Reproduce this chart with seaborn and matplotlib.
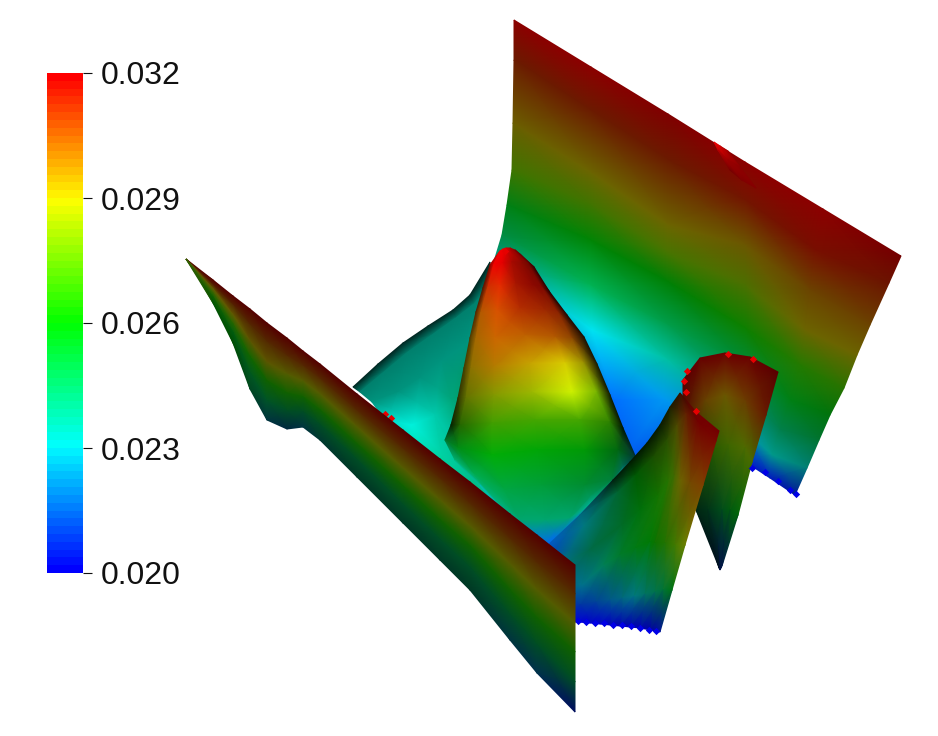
import numpy as np
import matplotlib
matplotlib.use("Agg")
import matplotlib.pyplot as plt
from matplotlib.colors import ListedColormap, Normalize
from matplotlib.cm import ScalarMappable
import seaborn as sns

sns.set_theme(style="white")
plt.rcParams['font.family'] = ['Liberation Sans', 'DejaVu Sans']

bar_ticks = [0.020, 0.023, 0.026, 0.029, 0.032]
bar_labels = ["0.020", "0.023", "0.026", "0.029", "0.032"]
bar_colors = ["#0000ff", "#00ffff", "#00ff00", "#ffff00", "#ff0000"]

# Every panel: projected surface vertices (x, y), scalar value, lighting factor.
back_x = [[514,591,668,745,823,901],[514,590,668,745,815,889],[513,590,668,745,810,870],
          [512,590,668,745,805,857],[507,590,668,745,800,844],[502,590,668,745,790,830],
          [495,592,668,745,780,819],[505,615,665,745,772,807],[545,590,640,750,770,795]]
back_y = [[20,67,114,162,209,256],[60,110,160,200,250,283],[123,172,225,245,290,325],
          [170,205,253,285,330,355],[205,240,282,328,365,388],[235,285,325,365,400,415],
          [258,330,360,395,430,440],[300,400,400,430,455,468],[545,520,500,465,478,495]]
back_v = [[.032,.032,.032,.032,.032,.032],[.0312,.0312,.0312,.0314,.0316,.0314],[.0292,.029,.029,.0295,.03,.03],
          [.0275,.0275,.0278,.028,.029,.029],[.0255,.026,.026,.0262,.0268,.027],[.0245,.0245,.0245,.0248,.0255,.0258],
          [.0235,.023,.0235,.0238,.0243,.0247],[.023,.0215,.022,.0225,.0232,.0232],[.021,.021,.0205,.0205,.0205,.0205]]
back_s = [[.55,.55,.5,.55,.55,.45],[.42,.42,.42,.45,.47,.42],[.42,.42,.42,.42,.42,.42],
          [.46,.46,.46,.44,.42,.42],[.5,.52,.5,.5,.48,.45],[.55,.7,.62,.55,.5,.45],
          [.6,.95,.75,.55,.5,.45],[.6,1.0,.95,.7,.6,.5],[.8,.95,.9,.8,.75,.6]]

valley_x = [[353,378,403,428,453,470,490],[360,384,408,432,456,474,490],[372,398,420,442,465,480,495],
            [385,412,435,452,470,485,500],[400,440,480,510,530,540,545]]
valley_y = [[387,364,343,326,310,295,262],[392,372,352,335,318,304,285],[402,392,378,360,345,330,310],
            [420,425,415,400,385,370,350],[442,475,500,520,530,540,545]]
valley_v = [[.0235]*7,[.0235]*7,[.0235]*7,[.0232,.0232,.0235,.0238,.024,.024,.024],[.0235,.024,.024,.0235,.0225,.0215,.0215]]
valley_s = [[.15]*7,[.5]*7,[.58]*7,[.85,.95,.8,.65,.6,.6,.6],[.95,.8,.75,.8,.9,.95,.95]]

hump_x = [[497,500,503,506,510,515,520],[490,494,502,512,522,528,534],[483,488,500,516,533,542,549],
          [476,481,497,520,545,558,567],[470,476,495,525,555,572,584],[464,471,494,530,565,584,597],
          [458,466,494,532,572,597,610],[451,460,492,535,580,610,623],[445,458,492,538,585,618,637],
          [455,475,505,542,585,612,622],[480,500,520,545,570,590,600],[510,520,532,545,555,568,575]]
hump_y = [[255,251,249,248,248,250,254],[265,264,263,262,263,263,267],[288,287,285,283,285,287,291],
          [312,312,310,308,310,312,315],[338,338,337,335,337,338,337],[368,368,366,363,363,363,364],
          [398,398,395,392,392,392,395],[425,425,423,420,420,422,428],[440,448,455,450,450,450,460],
          [460,475,490,485,485,480,475],[485,505,520,520,518,505,495],[520,530,538,545,540,530,523]]
hump_v = [[.032]*7,[.0318,.032,.032,.0318,.0318,.0318,.032],[.031,.0312,.0314,.0316,.0318,.0318,.0318],
          [.0305,.0305,.0308,.0312,.0312,.0312,.0312],[.0295,.03,.0305,.0305,.0305,.0305,.0305],[.029,.0295,.0298,.0295,.029,.029,.029],
          [.0285,.0285,.0285,.0285,.0285,.028,.028],[.0265,.027,.0272,.0272,.0272,.027,.0255],[.0248,.0255,.026,.026,.026,.0255,.0225],
          [.024,.0245,.0248,.025,.025,.0245,.0225],[.0235,.0238,.024,.024,.024,.0235,.022],[.023,.0225,.022,.0215,.0215,.0215,.0215]]
hump_s = [[.85,.95,.95,.85,.7,.55,.4],[.5,.95,.9,.65,.55,.45,.2],[.3,.8,.9,.65,.55,.5,.15],
          [.3,.7,.85,.7,.62,.55,.12],[.3,.65,.8,.75,.7,.55,.1],[.25,.55,.7,.78,.85,.6,.1],
          [.2,.45,.6,.72,.95,.7,.1],[.12,.4,.62,.65,.65,.5,.08],[.45,.55,.68,.65,.6,.4,.25],
          [.7,.68,.65,.62,.55,.5,.7],[.75,.7,.65,.65,.65,.7,.9],[.8,.8,.85,.95,.95,.95,.95]]

ring_x = [[683,700,725,750,778],[683,705,725,745,766],[690,712,728,745,752],[696,708,722,730,738],[718,719,720,721,722]]
ring_y = [[380,358,353,357,372],[420,400,395,400,415],[470,450,445,448,462],[510,510,510,510,515],[565,568,570,568,566]]
ring_v = [[.032,.032,.032,.032,.032],[.0312,.03,.0295,.0302,.0312],[.0272,.0272,.0278,.0282,.028],[.0245,.0245,.025,.0255,.0258],[.0215,.021,.0205,.0205,.021]]
ring_s = [[.35,.4,.42,.42,.35],[.3,.4,.42,.42,.4],[.3,.35,.4,.42,.42],[.15,.2,.3,.35,.4],[.12,.15,.3,.3,.3]]

inner_x = [[548,580,613,630,647,660,670,680,696,719],[553,584,618,636,654,667,677,686,698,716],
           [555,590,622,640,658,668,674,680,690,703],[560,582,604,620,636,650,655,665,675,685],
           [562,580,596,610,622,634,645,655,663,672],[565,578,590,600,610,620,630,640,650,660]]
inner_y = [[545,515,480,462,443,425,407,393,412,431],[552,525,492,475,456,440,425,413,422,441],
           [570,550,525,510,495,480,475,480,482,485],[590,585,565,555,548,542,543,543,545,545],
           [605,605,602,600,598,596,594,592,590,590],[621,622,623,624,625,626,627,628,630,632]]
inner_v = [[.0215,.0225,.0245,.026,.0265,.027,.0285,.031,.032,.032],[.0215,.023,.0245,.026,.027,.0275,.029,.031,.032,.0318],
           [.0225,.024,.025,.0258,.0265,.027,.0278,.029,.03,.0305],[.022,.0225,.024,.025,.0255,.026,.0262,.0268,.0275,.0285],
           [.021,.021,.0215,.022,.0225,.023,.0235,.024,.0245,.0255],[.02,.02,.02,.02,.02,.02,.02,.02,.02,.0205]]
inner_s = [[.8,.5,.12,.1,.1,.1,.12,.2,.45,.45],[.7,.5,.4,.35,.3,.3,.3,.38,.45,.48],
           [.55,.42,.42,.44,.45,.45,.42,.42,.45,.5],[.55,.55,.5,.48,.48,.48,.45,.45,.48,.5],
           [.7,.65,.6,.55,.5,.5,.45,.45,.45,.45],[.9,.85,.8,.8,.75,.7,.7,.7,.65,.6]]

wall_x = [186,213,233,250,267,287,303,320,357,403,440,470,510,537,575]
wall_y = [[259,280,296,309,323,338,351,364,394,430,459,482,514,535,565],
          [259,285,305,325,342,356,366,379,411,449,479,504,539,563,594],
          [259,289,315,341,362,374,381,394,427,468,500,526,564,590,623],
          [259,293,324,357,381,393,397,410,444,486,520,546,590,618,652],
          [259,297,333,373,401,411,412,425,460,505,540,568,615,645,682],
          [259,303,343,389,420,429,427,440,477,523,560,590,640,673,712]]
wall_v = [[.032]*15,
          [.0308,.0308,.0306,.0305,.0305,.0305,.0305,.0305,.0305,.0305,.0305,.0305,.0305,.0305,.0305],
          [.0295,.029,.029,.029,.029,.0288,.0288,.0288,.0288,.0288,.0288,.0288,.0288,.0288,.0288],
          [.028,.0275,.027,.0265,.0265,.0265,.0265,.0265,.0265,.0265,.0265,.0265,.0265,.0265,.0265],
          [.028,.0265,.0255,.025,.0245,.0245,.0245,.0245,.0245,.0245,.0245,.0245,.0245,.0245,.0245],
          [.028,.026,.026,.0245,.0225,.022,.0225,.0235,.024,.024,.024,.024,.0225,.022,.0205]]
wall_s = [[.33]*15,[.33]*15,[.38,.38,.38,.36,.36,.36,.36,.36,.36,.36,.36,.36,.36,.36,.36],
          [.38,.4,.4,.4,.38,.38,.38,.38,.38,.38,.38,.38,.38,.38,.38],
          [.38,.38,.36,.35,.33,.3,.3,.3,.3,.3,.3,.3,.3,.3,.3],
          [.38,.32,.3,.28,.25,.25,.25,.22,.22,.22,.22,.22,.25,.3,.38]]

sliver_x = [[714,720,728],[718,728,740],[730,742,756]]
sliver_y = [[142,146,151],[150,160,167],[170,180,188]]
sliver_v = [[.032]*3,[.032]*3,[.032]*3]
sliver_s = [[1.0,.85,.6],[.75,.62,.55],[.45,.5,.52]]

red_x = [687,684,686,696,728,753,385,391,505]
red_y = [371,381,392,411,354,359,414,418,251]
blue_x = [578,586,595,604,613,622,631,640,649,656,752,765,778,790,796]
blue_y = [621,622,623,623,625,625,626,628,630,631,468,472,481,490,494]

cmap = ListedColormap(sns.blend_palette(bar_colors, n_colors=64))
norm = Normalize(bar_ticks[0], bar_ticks[-1])

fig = plt.figure(figsize=(9.38, 7.36), dpi=100)
ax = fig.add_axes([0, 0, 1, 1])
ax.set_xlim(0, 938)
ax.set_ylim(736, 0)
ax.axis("off")

def panel(px, py, pv, ps):
    x, y = np.array(px, float), np.array(py, float)
    rgba = cmap(norm(np.array(pv, float)))
    rgba[..., :3] *= np.array(ps, float)[..., None]
    ax.pcolormesh(x, y, rgba, shading="gouraud", rasterized=True)

panel(back_x, back_y, back_v, back_s)
panel(sliver_x, sliver_y, sliver_v, sliver_s)
panel(valley_x, valley_y, valley_v, valley_s)
panel(hump_x, hump_y, hump_v, hump_s)
panel(ring_x, ring_y, ring_v, ring_s)
panel(inner_x, inner_y, inner_v, inner_s)
sns.scatterplot(x=blue_x, y=blue_y, ax=ax, color="#0000e6", marker="D", s=14, linewidth=0, legend=False)
sns.scatterplot(x=red_x, y=red_y, ax=ax, color="#e60000", marker="D", s=14, linewidth=0, legend=False)
panel(np.tile(wall_x, (6, 1)), wall_y, wall_v, wall_s)
ax.set_xlim(0, 938)
ax.set_ylim(736, 0)

cax = fig.add_axes([47/938, (736-573)/736, 36/938, 500/736])
cb = fig.colorbar(ScalarMappable(norm=norm, cmap=cmap), cax=cax, ticks=bar_ticks)
cb.outline.set_visible(False)
cb.ax.set_yticklabels(bar_labels)
cb.ax.tick_params(axis="y", which="major", right=True, length=6.5, width=0.8, pad=6.5,
                  labelsize=23, colors="#111111")
fig.savefig("out.png", dpi=100, facecolor="white")
